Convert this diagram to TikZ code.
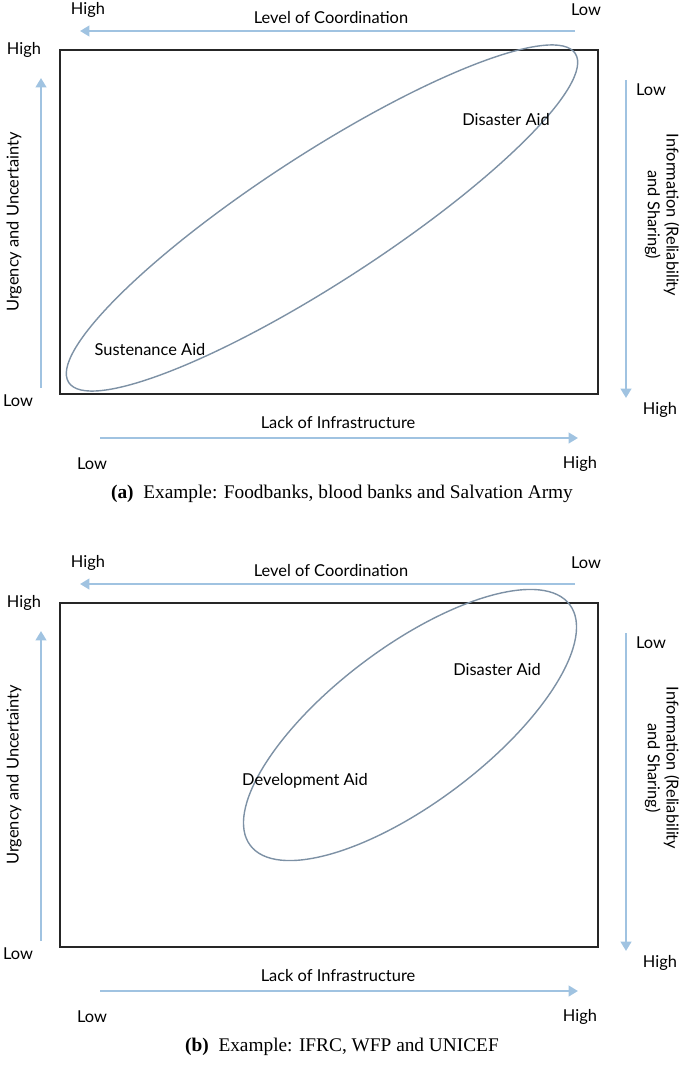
\documentclass[tikz,border=0pt]{standalone}
\usepackage{fontspec}
\setmainfont{Liberation Serif}
\newfontfamily\lblfont{Lato}
\usetikzlibrary{arrows.meta}
\definecolor{axisblue}{RGB}{160,195,225}
\definecolor{ovalgray}{RGB}{125,145,165}
\tikzset{
  axis/.style={draw=axisblue,line width=2.2pt,-{Triangle[length=8pt,width=9pt]}},
  lbl/.style={font=\lblfont\fontsize{14}{16}\selectfont,align=center},
  captext/.style={font=\fontsize{16.5}{19}\selectfont},
  frame/.style={draw=black!85,line width=1pt},
  oval/.style={draw=ovalgray,line width=1.2pt}
}
\begin{document}
\begin{tikzpicture}[x=0.03cm,y=-0.03cm]
  \useasboundingbox (0,0) rectangle (685,1065);

  \foreach \dy/\tag/\capt in {0/a/{Example: Foodbanks, blood banks and Salvation Army},553/b/{Example: IFRC, WFP and UNICEF}}{
    \begin{scope}[yshift=-\dy*0.03cm]
      \draw[frame] (60,50) rectangle (598,394);
      % axes
      \coordinate (t1\tag) at (575,31);  \coordinate (t2\tag) at (80,31);
      \coordinate (l1\tag) at (41,388);  \coordinate (l2\tag) at (41,78);
      \coordinate (r1\tag) at (626,80);  \coordinate (r2\tag) at (626,398);
      \coordinate (b1\tag) at (100,438); \coordinate (b2\tag) at (578,438);
      \draw[axis] (t1\tag) -- (t2\tag);
      \draw[axis] (l1\tag) -- (l2\tag);
      \draw[axis] (r1\tag) -- (r2\tag);
      \draw[axis] (b1\tag) -- (b2\tag);
      % labels
      \node[lbl] (coord\tag) at (331,18) {Level of Coordination};
      \node[lbl] (thi\tag) at (88,10) {High};
      \node[lbl] (tlo\tag) at (586,10) {Low};
      \node[lbl] (lhi\tag) at (24,50) {High};
      \node[lbl] (llo\tag) at (18,401) {Low};
      \node[lbl,rotate=90] (urg\tag) at (14,222) {Urgency and Uncertainty};
      \node[lbl] (rlo\tag) at (651,90) {Low};
      \node[lbl] (rhi\tag) at (660,410) {High};
      \node[lbl,rotate=-90,align=center] (info\tag) at (662,215) {Information (Reliability\\and Sharing)};
      \node[lbl] (infra\tag) at (338,423) {Lack of Infrastructure};
      \node[lbl] (blo\tag) at (92,464) {Low};
      \node[lbl] (bhi\tag) at (580,464) {High};
      \node[captext] (cap\tag) at (342,494) {\textbf{(\tag)}\enspace\capt};
    \end{scope}
  }

  % panel a
  \draw[oval,rotate around={33:(322,218)}] (322,218) ellipse [x radius=302, y radius=64];
  \node[lbl] (disA) at (506,120) {Disaster Aid};
  \node[lbl] (susA) at (150,350) {Sustenance Aid};

  % panel b
  \draw[oval,rotate around={37:(410,725)}] (410,725) ellipse [x radius=200, y radius=78];
  \node[lbl] (disB) at (497,670) {Disaster Aid};
  \node[lbl] (devB) at (305,781) {Development Aid};
\end{tikzpicture}
\end{document}
